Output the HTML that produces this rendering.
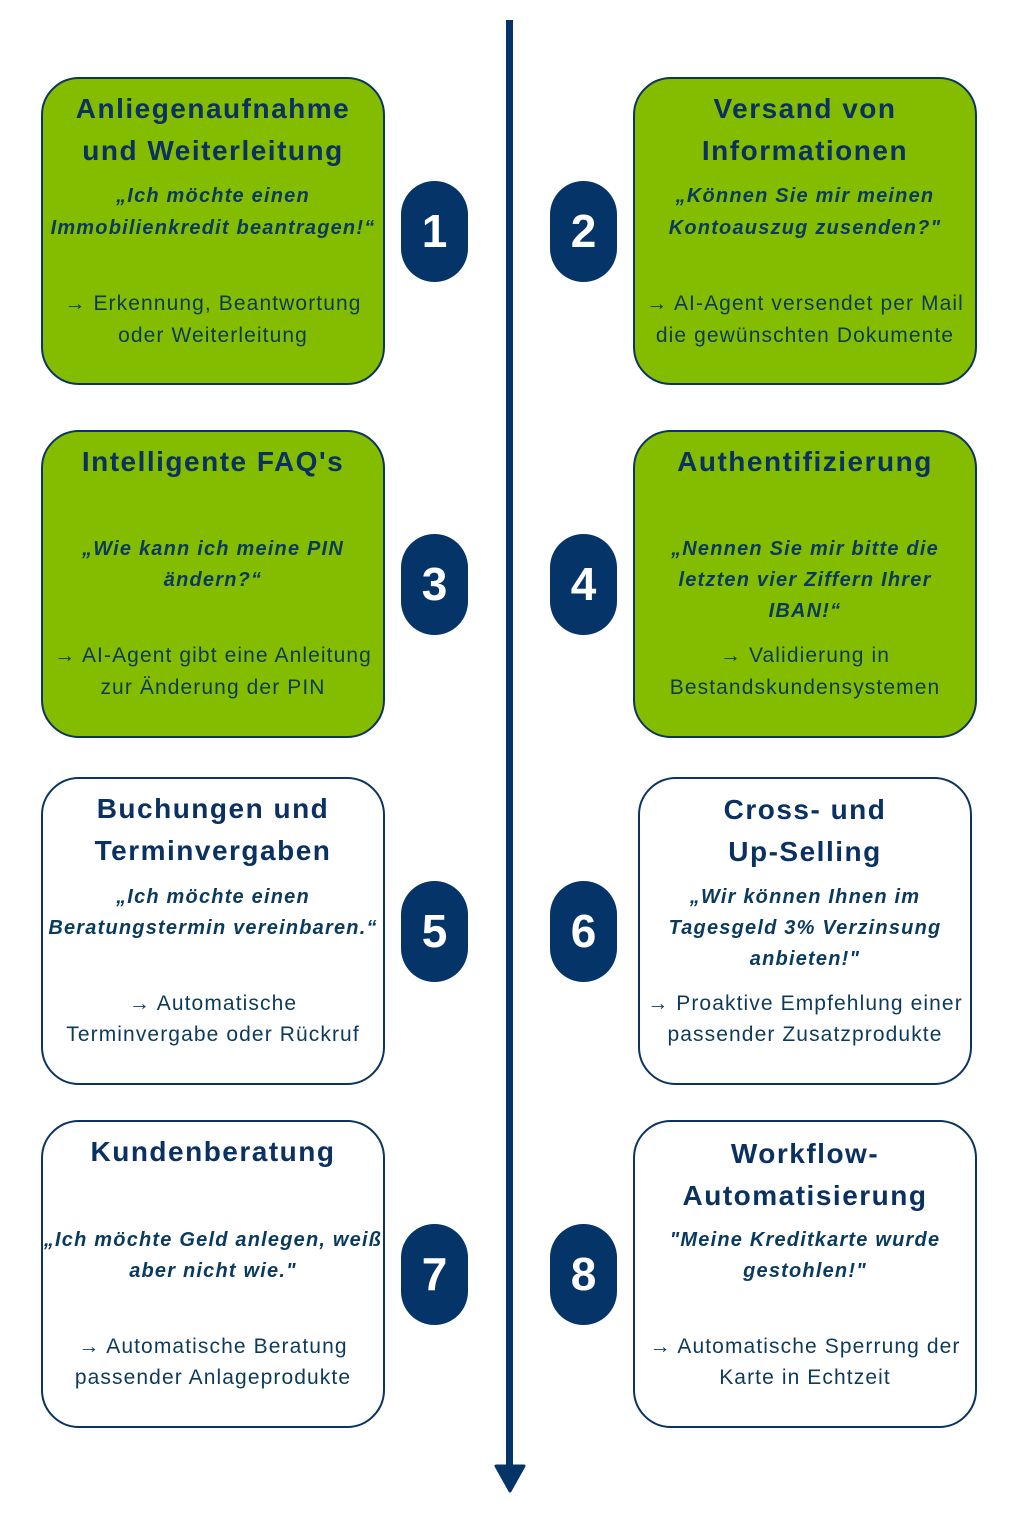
<!DOCTYPE html>
<html><head><meta charset="utf-8"><style>
html,body{margin:0;padding:0;background:#fff}
body{width:1025px;height:1523px;position:relative;overflow:hidden;font-family:"Liberation Sans","DejaVu Sans",sans-serif;color:#0a3161}
.box{position:absolute;box-sizing:border-box;border:2px solid #0b3560;border-radius:38px;width:344px;height:308px}
.g{background:#84bd00}
.w{background:#fff}
.l{position:absolute;left:0;width:100%;text-align:center;white-space:nowrap;height:40px;line-height:40px}
.t{font-size:28px;font-weight:bold;color:#0a3161;letter-spacing:1.5px;top:1px}
.q{font-size:20px;font-weight:bold;font-style:italic;color:#0a3a5e;letter-spacing:1.2px}
.d{font-size:21px;color:#0d3a5a;letter-spacing:1.1px}
.pill{position:absolute;width:67px;height:101px;border-radius:34px;background:#053468;color:#fff;font-size:46px;font-weight:bold;text-align:center;line-height:101px}
</style></head><body>
<div style="position:absolute;left:506px;top:20px;width:7px;height:1455px;background:#053468"></div>
<svg style="position:absolute;left:494px;top:1460px" width="32" height="34"><polygon points="2,6 30,6 16,31" fill="#053468" stroke="#053468" stroke-width="3" stroke-linejoin="round"/></svg>

<div class="box g" style="left:41px;top:77px">
<div class="l t" style="top:10px">Anliegenaufnahme</div>
<div class="l t" style="top:52px">und Weiterleitung</div>
<div class="l q" style="top:97px">„Ich möchte einen</div>
<div class="l q" style="top:129px">Immobilienkredit beantragen!“</div>
<div class="l d" style="top:205px">→ Erkennung, Beantwortung</div>
<div class="l d" style="top:237px">oder Weiterleitung</div>
</div>
<div class="box g" style="left:633px;top:77px">
<div class="l t" style="top:10px">Versand von</div>
<div class="l t" style="top:52px">Informationen</div>
<div class="l q" style="top:97px">„Können Sie mir meinen</div>
<div class="l q" style="top:129px">Kontoauszug zusenden?"</div>
<div class="l d" style="top:205px">→ AI-Agent versendet per Mail</div>
<div class="l d" style="top:237px">die gewünschten Dokumente</div>
</div>

<div class="box g" style="left:41px;top:430px">
<div class="l t" style="top:10px">Intelligente FAQ's</div>
<div class="l q" style="top:97px">„Wie kann ich meine PIN</div>
<div class="l q" style="top:128px">ändern?“</div>
<div class="l d" style="top:204px">→ AI-Agent gibt eine Anleitung</div>
<div class="l d" style="top:236px">zur Änderung der PIN</div>
</div>
<div class="box g" style="left:633px;top:430px">
<div class="l t" style="top:10px">Authentifizierung</div>
<div class="l q" style="top:97px">„Nennen Sie mir bitte die</div>
<div class="l q" style="top:128px">letzten vier Ziffern Ihrer</div>
<div class="l q" style="top:159px">IBAN!“</div>
<div class="l d" style="top:204px">→ Validierung in</div>
<div class="l d" style="top:236px">Bestandskundensystemen</div>
</div>

<div class="box w" style="left:41px;top:777px">
<div class="l t" style="top:10px">Buchungen und</div>
<div class="l t" style="top:52px">Terminvergaben</div>
<div class="l q" style="top:98px">„Ich möchte einen</div>
<div class="l q" style="top:129px">Beratungstermin vereinbaren.“</div>
<div class="l d" style="top:205px">→ Automatische</div>
<div class="l d" style="top:236px">Terminvergabe oder Rückruf</div>
</div>
<div class="box w" style="left:638px;top:777px;width:334px">
<div class="l t" style="top:11px">Cross- und</div>
<div class="l t" style="top:53px">Up-Selling</div>
<div class="l q" style="top:98px">„Wir können Ihnen im</div>
<div class="l q" style="top:129px">Tagesgeld 3% Verzinsung</div>
<div class="l q" style="top:160px">anbieten!"</div>
<div class="l d" style="top:205px">→ Proaktive Empfehlung einer</div>
<div class="l d" style="top:236px">passender Zusatzprodukte</div>
</div>

<div class="box w" style="left:41px;top:1120px">
<div class="l t" style="top:10px">Kundenberatung</div>
<div class="l q" style="top:98px">„Ich möchte Geld anlegen, weiß</div>
<div class="l q" style="top:129px">aber nicht wie."</div>
<div class="l d" style="top:205px">→ Automatische Beratung</div>
<div class="l d" style="top:236px">passender Anlageprodukte</div>
</div>
<div class="box w" style="left:633px;top:1120px">
<div class="l t" style="top:12px">Workflow-</div>
<div class="l t" style="top:54px">Automatisierung</div>
<div class="l q" style="top:98px">"Meine Kreditkarte wurde</div>
<div class="l q" style="top:129px">gestohlen!"</div>
<div class="l d" style="top:205px">→ Automatische Sperrung der</div>
<div class="l d" style="top:236px">Karte in Echtzeit</div>
</div>

<div class="pill" style="left:401px;top:181px">1</div>
<div class="pill" style="left:550px;top:181px">2</div>
<div class="pill" style="left:401px;top:534px">3</div>
<div class="pill" style="left:550px;top:534px">4</div>
<div class="pill" style="left:401px;top:881px">5</div>
<div class="pill" style="left:550px;top:881px">6</div>
<div class="pill" style="left:401px;top:1224px">7</div>
<div class="pill" style="left:550px;top:1224px">8</div>
</body></html>
